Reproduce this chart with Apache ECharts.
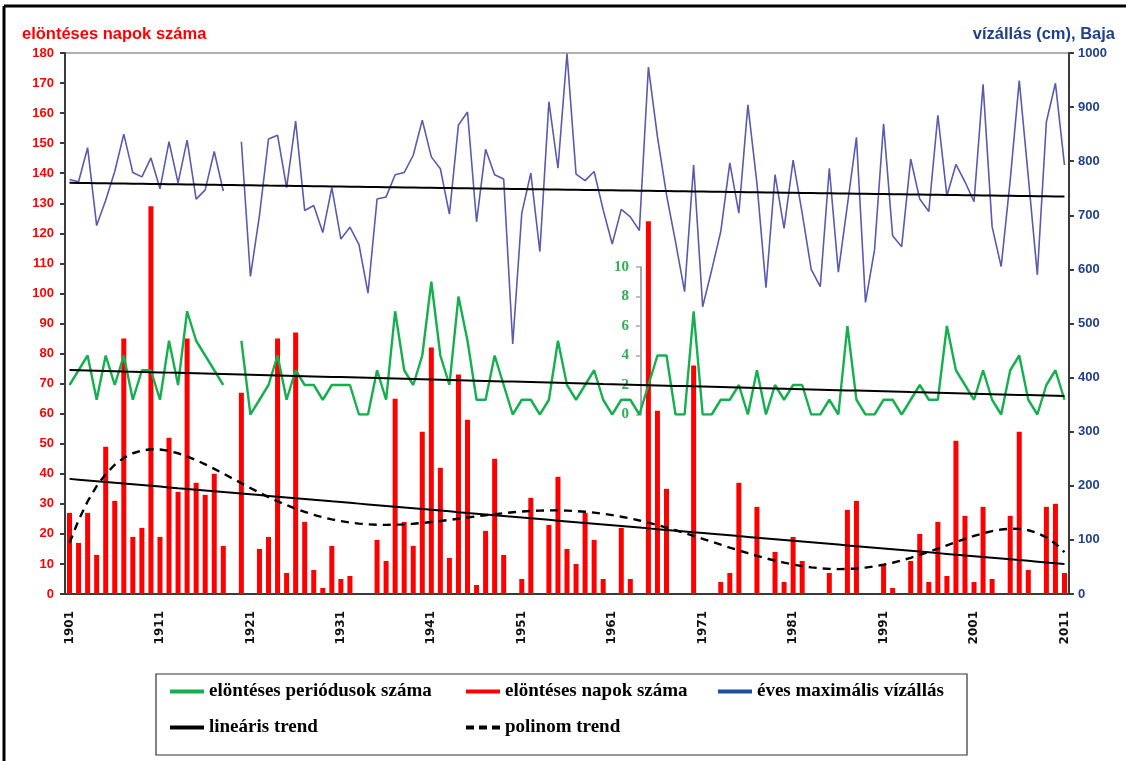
<!DOCTYPE html>
<html>
<head>
<meta charset="utf-8">
<script src="https://cdn.jsdelivr.net/npm/echarts@6/dist/echarts.min.js"></script>
<style>
  html, body { margin: 0; padding: 0; background: #ffffff; }
  #chart { width: 1126px; height: 761px; }
</style>
</head>
<body>
<div id="chart"></div>
<script>
// Years 1901–2011 (category axis)
const years = [];
for (let y = 1901; y <= 2011; y++) years.push(String(y));

// Number of flood days per year (left axis); 1919 has no record
const floodDays = [
  27, 17, 27, 13, 49, 31, 85, 19, 22, 129,
  19, 52, 34, 85, 37, 33, 40, 16, null, 67,
  0, 15, 19, 85, 7, 87, 24, 8, 2, 16,
  5, 6, 0, 0, 18, 11, 65, 24, 16, 54,
  82, 42, 12, 73, 58, 3, 21, 45, 13, 0,
  5, 32, 0, 23, 39, 15, 10, 27, 18, 5,
  0, 22, 5, 0, 124, 61, 35, 0, 0, 76,
  0, 0, 4, 7, 37, 0, 29, 0, 14, 4,
  19, 11, 0, 0, 7, 0, 28, 31, 0, 0,
  10, 2, 0, 11, 20, 4, 24, 6, 51, 26,
  4, 29, 5, 0, 26, 54, 8, 0, 29, 30,
  7
];

// Annual maximum water level at Baja, cm (right axis)
const maxLevel = [
  766, 762, 825, 681, 728, 781, 850, 779, 771, 806,
  749, 836, 760, 839, 730, 747, 818, 745, null, 836,
  587, 700, 841, 848, 751, 874, 709, 718, 668, 751,
  656, 678, 646, 556, 730, 734, 775, 779, 811, 876,
  808, 786, 702, 867, 891, 688, 822, 775, 767, 462,
  704, 778, 633, 910, 787, 999, 776, 764, 781, 710,
  647, 711, 697, 672, 974, 845, 738, 651, 559, 793,
  531, 599, 670, 797, 704, 904, 759, 566, 775, 676,
  802, 704, 600, 568, 787, 595, 719, 844, 539, 636,
  869, 662, 642, 804, 730, 707, 885, 736, 794, 762,
  725, 942, 679, 605, 765, 949, 771, 590, 873, 944,
  793
];

// Number of flood periods per year (inner green axis)
const floodPeriods = [
  2, 3, 4, 1, 4, 2, 4, 1, 3, 3,
  1, 5, 2, 7, 5, 4, 3, 2, null, 5,
  0, 1, 2, 4, 1, 3, 2, 2, 1, 2,
  2, 2, 0, 0, 3, 1, 7, 3, 2, 4,
  9, 4, 2, 8, 5, 1, 1, 4, 2, 0,
  1, 1, 0, 1, 5, 2, 1, 2, 3, 1,
  0, 1, 1, 0, 2, 4, 4, 0, 0, 7,
  0, 0, 1, 1, 2, 0, 3, 0, 2, 1,
  2, 2, 0, 0, 1, 0, 6, 1, 0, 0,
  1, 1, 0, 1, 2, 1, 1, 6, 3, 2,
  1, 3, 1, 0, 3, 4, 1, 0, 2, 3,
  1
];

// Axis tick settings
const daysTicks = { min: 0, max: 180, interval: 10 };
const levelTicks = { min: 0, max: 1000, interval: 100 };
const periodTicks = { min: 0, max: 10, interval: 2 };

// Least-squares polynomial trend over the category index (nulls skipped)
function polyTrend(values, degree) {
  const n = values.length, mid = (n - 1) / 2, m = degree + 1;
  const A = Array.from({ length: m }, () => new Array(m + 1).fill(0));
  values.forEach((v, i) => {
    if (v === null) return;
    const t = (i - mid) / mid;
    const pw = [1];
    for (let k = 1; k < 2 * m; k++) pw.push(pw[k - 1] * t);
    for (let r = 0; r < m; r++) {
      for (let c = 0; c < m; c++) A[r][c] += pw[r + c];
      A[r][m] += pw[r] * v;
    }
  });
  for (let col = 0; col < m; col++) {
    let piv = col;
    for (let r = col + 1; r < m; r++) if (Math.abs(A[r][col]) > Math.abs(A[piv][col])) piv = r;
    [A[col], A[piv]] = [A[piv], A[col]];
    for (let r = 0; r < m; r++) {
      if (r === col) continue;
      const f = A[r][col] / A[col][col];
      for (let c = col; c <= m; c++) A[r][c] -= f * A[col][c];
    }
  }
  const coef = A.map((row, i) => row[m] / row[i]);
  return values.map((_, i) => {
    const t = (i - mid) / mid;
    let s = 0, p = 1;
    for (let k = 0; k < m; k++) { s += coef[k] * p; p *= t; }
    return +s.toFixed(3);
  });
}

const RED = '#ff0000';
const BLUE = '#5a5aae';
const GREEN = '#14b04e';
const AXIS_BLUE = '#1f3f8f';

const trendStyle = { color: '#000', width: 2 };
const legendText = { fontFamily: 'Liberation Serif', fontWeight: 'bold', fontSize: 19, color: '#000' };
const SOLID_ICON = 'path://M0,0H34V4H0Z';
const DASH_ICON = 'path://M0,0H8V4H0Z M13,0H21V4H13Z M26,0H34V4H26Z';

function legendAt(name, color, icon, left, top) {
  return {
    data: [{ name: name, icon: icon, itemStyle: { color: color } }],
    left: left, top: top, itemWidth: 34, itemHeight: 4, itemGap: 0,
    selectedMode: false, textStyle: legendText, padding: 0
  };
}

const chart = echarts.init(document.getElementById('chart'), null, { renderer: 'canvas' });
chart.setOption({
  animation: false,
  backgroundColor: '#ffffff',
  title: [
    { text: 'elöntéses napok száma', left: 17, top: 21,
      textStyle: { color: RED, fontFamily: 'Liberation Sans', fontWeight: 'bold', fontSize: 16.5 } },
    { text: 'vízállás (cm), Baja', right: 6, top: 21,
      textStyle: { color: AXIS_BLUE, fontFamily: 'Liberation Sans', fontWeight: 'bold', fontSize: 16.5 } }
  ],
  grid: [
    { left: 65, right: 57, top: 53, bottom: 167, show: true, borderColor: '#b0b0b0', borderWidth: 2 },
    { left: 65, right: 57, top: 267, bottom: 346.5 }
  ],
  xAxis: [
    {
      type: 'category', gridIndex: 0, data: years, boundaryGap: true,
      axisLine: { lineStyle: { color: '#3a3a3a', width: 2 } },
      axisTick: { interval: 0, length: 5, lineStyle: { color: '#3a3a3a', width: 1.5 } },
      axisLabel: { interval: 9, rotate: 90, margin: 17, color: '#111',
        fontFamily: 'DejaVu Sans', fontWeight: 'bold', fontSize: 12 }
    },
    { type: 'category', gridIndex: 1, data: years, boundaryGap: true, show: false }
  ],
  yAxis: [
    {
      type: 'value', gridIndex: 0, position: 'left', ...daysTicks,
      axisLine: { show: true, lineStyle: { color: '#3a3a3a', width: 2 } },
      axisTick: { show: true, length: 5, lineStyle: { color: '#3a3a3a', width: 2 } },
      axisLabel: { color: RED, fontFamily: 'Liberation Sans', fontWeight: 'bold', fontSize: 13, margin: 11 },
      splitLine: { show: false }
    },
    {
      type: 'value', gridIndex: 0, position: 'right', ...levelTicks,
      axisLine: { show: true, lineStyle: { color: '#3a3a3a', width: 2 } },
      axisTick: { show: true, length: 5, lineStyle: { color: '#3a3a3a', width: 2 } },
      axisLabel: { color: AXIS_BLUE, fontFamily: 'Liberation Sans', fontWeight: 'bold', fontSize: 13, margin: 9,
        formatter: v => String(v) },
      splitLine: { show: false }
    },
    {
      type: 'value', gridIndex: 1, position: 'left', offset: -576, ...periodTicks,
      axisLine: { show: true, lineStyle: { color: '#a8a8a8', width: 2 } },
      axisTick: { show: true, length: 5, lineStyle: { color: '#a8a8a8', width: 1.5 } },
      axisLabel: { color: '#2fae55', fontFamily: 'Liberation Serif', fontWeight: 'bold', fontSize: 15, margin: 12 },
      splitLine: { show: false }
    }
  ],
  legend: [
    legendAt('elöntéses periódusok száma', GREEN, SOLID_ICON, 170, 682),
    legendAt('elöntéses napok száma', RED, SOLID_ICON, 466, 682),
    legendAt('éves maximális vízállás', '#1f4ea0', SOLID_ICON, 718, 682),
    legendAt('lineáris trend', '#000', SOLID_ICON, 170, 718),
    legendAt('polinom trend', '#000', DASH_ICON, 466, 718)
  ],
  graphic: [
    { type: 'rect', shape: { x: 156, y: 674, width: 811, height: 81 },
      style: { fill: 'none', stroke: '#333', lineWidth: 1.2 }, silent: true },
    { type: 'line', shape: { x1: 4, y1: 6, x2: 1126, y2: 6 },
      style: { stroke: '#000', lineWidth: 3 }, silent: true },
    { type: 'line', shape: { x1: 4, y1: 6, x2: 4, y2: 761 },
      style: { stroke: '#000', lineWidth: 3 }, silent: true }
  ],
  series: [
    {
      name: 'elöntéses napok száma', type: 'bar', xAxisIndex: 0, yAxisIndex: 0,
      data: floodDays, barWidth: 5, itemStyle: { color: RED }, z: 2
    },
    {
      name: 'éves maximális vízállás', type: 'line', xAxisIndex: 0, yAxisIndex: 1,
      data: maxLevel, symbol: 'none', connectNulls: false,
      lineStyle: { color: BLUE, width: 1.6 }, itemStyle: { color: BLUE }, z: 3
    },
    {
      name: 'elöntéses periódusok száma', type: 'line', xAxisIndex: 1, yAxisIndex: 2,
      data: floodPeriods, symbol: 'none', connectNulls: false,
      lineStyle: { color: GREEN, width: 2.4 }, itemStyle: { color: GREEN }, z: 4
    },
    {
      name: 'lineáris trend', type: 'line', xAxisIndex: 0, yAxisIndex: 1,
      data: polyTrend(maxLevel, 1), symbol: 'none', lineStyle: trendStyle, itemStyle: { color: '#000' }, z: 5
    },
    {
      name: 'lineáris trend', type: 'line', xAxisIndex: 1, yAxisIndex: 2,
      data: polyTrend(floodPeriods, 1), symbol: 'none', lineStyle: trendStyle, itemStyle: { color: '#000' }, z: 5
    },
    {
      name: 'lineáris trend', type: 'line', xAxisIndex: 0, yAxisIndex: 0,
      data: polyTrend(floodDays, 1), symbol: 'none', lineStyle: trendStyle, itemStyle: { color: '#000' }, z: 5
    },
    {
      name: 'polinom trend', type: 'line', xAxisIndex: 0, yAxisIndex: 0,
      data: polyTrend(floodDays, 6), symbol: 'none',
      lineStyle: { color: '#000', width: 2.4, type: [8, 6] }, itemStyle: { color: '#000' }, z: 5
    }
  ]
});
</script>
</body>
</html>
